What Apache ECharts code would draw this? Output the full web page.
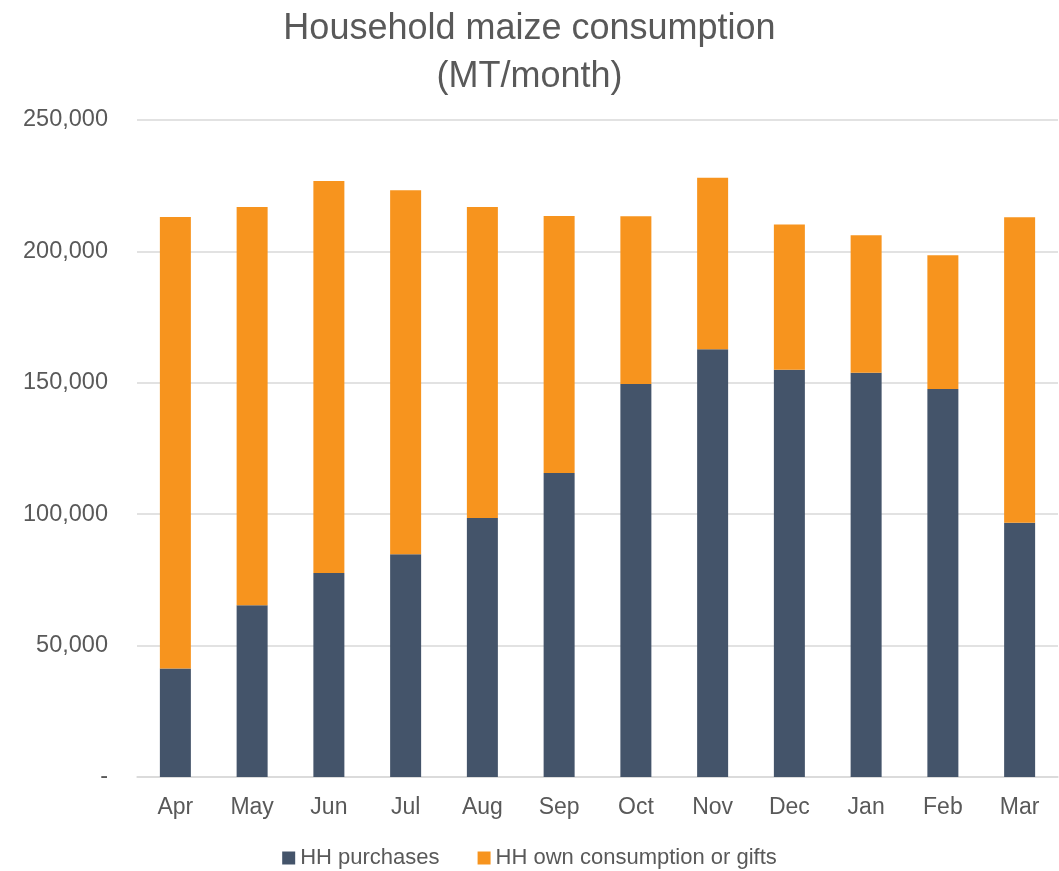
<!DOCTYPE html>
<html>
<head>
<meta charset="utf-8">
<script src="https://cdn.jsdelivr.net/npm/echarts@6/dist/echarts.min.js"></script>
<style>
  html, body { margin: 0; padding: 0; background: #fff; }
  #chart { width: 1059px; height: 871px; }
</style>
</head>
<body>
<div id="chart"></div>
<script>
// 月份
var months = ['Apr', 'May', 'Jun', 'Jul', 'Aug', 'Sep', 'Oct', 'Nov', 'Dec', 'Jan', 'Feb', 'Mar'];
// HH purchases (MT/month)
var purchases = [41300, 65400, 77600, 84800, 98600, 115700, 149500, 162800, 155000, 153800, 147600, 96700];
// HH own consumption or gifts (MT/month)
var ownConsumption = [171800, 151500, 149200, 138500, 118300, 97800, 63900, 65200, 55200, 52300, 50900, 116300];

var textColor = '#595959';
var fontFamily = 'Liberation Sans, Arial, sans-serif';

var oChart = echarts.init(document.getElementById('chart'));
var option = {
    animation: false,
    title: {
        text: 'Household maize consumption\n(MT/month)',
        left: 'center',
        top: 0,
        textStyle: {
            color: textColor,
            fontFamily: fontFamily,
            fontWeight: 'normal',
            fontSize: 36,
            lineHeight: 48
        }
    },
    legend: {
        bottom: -3,
        left: 'center',
        itemWidth: 13,
        itemHeight: 13,
        itemGap: 38,
        icon: 'rect',
        textStyle: {
            color: textColor,
            fontFamily: fontFamily,
            fontSize: 22
        },
        data: ['HH purchases', 'HH own consumption or gifts']
    },
    grid: {
        left: 137,
        right: 1,
        top: 120,
        bottom: 94,
        containLabel: false
    },
    xAxis: [
        {
            type: 'category',
            data: months,
            axisLine: { lineStyle: { color: '#D9D9D9', width: 1.5 } },
            axisTick: { show: false },
            axisLabel: {
                color: textColor,
                fontFamily: fontFamily,
                fontSize: 23,
                margin: 19
            }
        }
    ],
    yAxis: [
        {
            type: 'value',
            min: 0,
            max: 250000,
            interval: 50000,
            axisLine: { show: false },
            axisTick: { show: false },
            splitLine: { lineStyle: { color: '#D9D9D9', width: 1.5 } },
            axisLabel: {
                color: textColor,
                fontFamily: fontFamily,
                fontSize: 23.5,
                margin: 29,
                formatter: function (v) {
                    if (v === 0) return '-';
                    return v.toLocaleString('en-US');
                }
            }
        }
    ],
    series: [
        {
            name: 'HH purchases',
            type: 'bar',
            stack: 'total',
            barWidth: 31,
            itemStyle: { color: '#44546A' },
            data: purchases
        },
        {
            name: 'HH own consumption or gifts',
            type: 'bar',
            stack: 'total',
            barWidth: 31,
            itemStyle: { color: '#F7941E' },
            data: ownConsumption
        }
    ]
};
oChart.setOption(option);
</script>
</body>
</html>
